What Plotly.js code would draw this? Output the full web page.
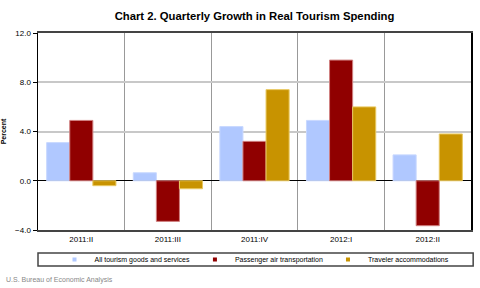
<!DOCTYPE html>
<html>
<head>
<meta charset="utf-8">
<script src="https://cdn.plot.ly/plotly-3.0.1.min.js"></script>
<style>
  html, body { margin: 0; padding: 0; background: #fff; }
  #chart { width: 480px; height: 288px; }
</style>
</head>
<body>
<div id="chart"></div>
<script>
// quarters and growth rates (percent)
var quarters = ['2011:II', '2011:III', '2011:IV', '2012:I', '2012:II'];
var allTourism = [3.1, 0.65, 4.4, 4.9, 2.1];
var passengerAir = [4.9, -3.3, 3.2, 9.8, -3.65];
var accommodations = [-0.4, -0.65, 7.4, 6.0, 3.8];

var names = ['All tourism goods and services', 'Passenger air transportation', 'Traveler accommodations'];
var fills = ['#b0c8ff', '#900000', '#c89300'];
var edges = ['#c8d8ff', '#d08080', '#e8c860'];

var data = [allTourism, passengerAir, accommodations].map(function (vals, i) {
  return {
    type: 'bar',
    name: names[i],
    x: quarters,
    y: vals,
    showlegend: false,
    marker: { color: fills[i], line: { color: edges[i], width: 1 } }
  };
});
// small square legend keys, like the original
names.forEach(function (n, i) {
  data.push({
    type: 'scatter', mode: 'markers', name: n,
    x: [null], y: [null],
    marker: { symbol: 'square', size: 4, color: fills[i] }
  });
});

var layout = {
  width: 480,
  height: 288,
  margin: { l: 38, r: 9, t: 33, b: 58 },
  paper_bgcolor: '#fff',
  plot_bgcolor: '#fff',
  font: { family: 'Liberation Sans, Arial, sans-serif', size: 8, color: '#000' },
  title: {
    text: '<b>Chart 2. Quarterly Growth in Real Tourism Spending</b>',
    font: { size: 11.3 },
    xref: 'paper', x: 0.5, y: 0.945, yanchor: 'middle'
  },
  barmode: 'group',
  bargap: 0.2,
  bargroupgap: 0,
  showlegend: true,
  legend: {
    orientation: 'h',
    x: 0.5, xanchor: 'center',
    y: -0.15, yanchor: 'middle',
    font: { size: 7 },
    itemwidth: 30,
    bgcolor: 'rgba(0,0,0,0)'
  },
  xaxis: {
    type: 'category',
    tickson: 'boundaries',
    showgrid: true,
    gridcolor: '#999',
    gridwidth: 1,
    showline: true,
    linecolor: '#444',
    linewidth: 2,
    mirror: true,
    ticks: '',
    tickfont: { size: 8 }
  },
  yaxis: {
    range: [-4, 12],
    dtick: 4,
    tick0: 0,
    tickformat: '.1f',
    showgrid: true,
    gridcolor: '#c8c8c8',
    gridwidth: 2,
    zeroline: true,
    zerolinecolor: '#000',
    zerolinewidth: 1,
    showline: true,
    linecolor: '#000',
    linewidth: 1.5,
    mirror: true,
    ticks: 'outside',
    ticklen: 4,
    tickcolor: '#000',
    tickfont: { size: 8 },
    title: { text: '<b>Percent</b>', font: { size: 7 }, standoff: 8 }
  },
  shapes: [{
    type: 'rect', xref: 'paper', yref: 'paper',
    x0: 0, x1: 1.005, y0: -0.117, y1: -0.183,
    line: { color: '#444', width: 1.5 }
  }],
  annotations: [{
    text: 'U.S. Bureau of Economic Analysis',
    xref: 'paper', yref: 'paper',
    x: -0.078, y: -0.255, xanchor: 'left', yanchor: 'middle',
    showarrow: false,
    font: { size: 7, color: '#888' }
  }]
};

Plotly.newPlot('chart', data, layout, { displayModeBar: false, staticPlot: true });
</script>
</body>
</html>
